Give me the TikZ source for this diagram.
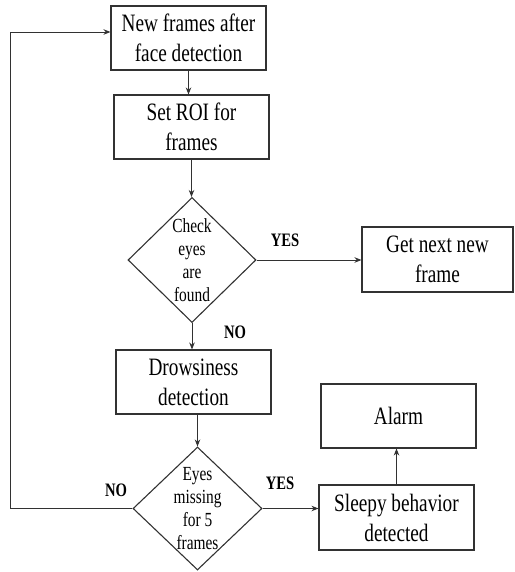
\documentclass[tikz,border=0pt]{standalone}
\usepackage{fontspec}
\setmainfont{Liberation Serif}[FakeStretch=0.77]
\usetikzlibrary{arrows.meta,positioning,shapes.geometric}
\definecolor{edgegray}{RGB}{50,50,50}

\begin{document}
\begin{tikzpicture}[
  x=1pt, y=-1pt,
  box/.style={draw=edgegray, line width=1.1pt, rectangle, align=center,
    minimum width=155pt, minimum height=64pt, inner sep=0pt,
    font=\fontsize{25}{30}\selectfont},
  decision/.style={draw=edgegray, line width=1.1pt, diamond, inner sep=0pt},
  dtext/.style={align=center, inner sep=0pt, font=\fontsize{20}{23}\selectfont},
  answer/.style={font=\bfseries\fontsize{19}{22}\selectfont, inner sep=0pt},
  flowarrow/.style={-{Stealth[length=7pt, width=5.5pt]}, line width=0.9pt, edgegray},
]
\useasboundingbox (0,0) rectangle (514,572);

% -------------------------------------------------------------------------
% Main column: frames, ROI, eye check, drowsiness test.
% -------------------------------------------------------------------------
\node[box] (newframes) at (188.5,38) {New frames after\\face detection};
\node[box] (setroi) at (191.5,127) {Set ROI for\\frames};

\node[decision, minimum width=128pt, minimum height=125pt] (checkeyes) at (192,260) {};
\node[dtext] (checktext) at (checkeyes.center) {Check\\eyes\\are\\found};

\node[box] (drowsy) at (193.5,382) {Drowsiness\\detection};

\node[decision, minimum width=129pt, minimum height=123pt] (missing) at (197.5,508.5) {};
\node[dtext] (missingtext) at (missing.center) {Eyes\\missing\\for 5\\frames};

% -------------------------------------------------------------------------
% Right column: outcomes.
% -------------------------------------------------------------------------
\node[box, minimum width=151pt, minimum height=65pt] (nextframe) at (437.5,259.5) {Get next new\\frame};
\node[box] (alarm) at (398.5,416) {Alarm};
\node[box, minimum height=65pt] (sleepy) at (396.5,517.5) {Sleepy behavior\\detected};

% Connectors
\draw[flowarrow] (newframes.south) -- (newframes.south |- setroi.north);
\draw[flowarrow] (setroi.south) -- (setroi.south |- checkeyes.north);
\draw[flowarrow] (checkeyes.east) -- (checkeyes.east -| nextframe.west);
\draw[flowarrow] (checkeyes.south) -- (checkeyes.south |- drowsy.north);
\draw[flowarrow] (missing.north |- drowsy.south) -- (missing.north);
\draw[flowarrow] (missing.east) -- (missing.east -| sleepy.west);
\draw[flowarrow] (sleepy.north) -- (sleepy.north |- alarm.south);

% loop back to the first box
\coordinate (backturn) at (10,32);
\draw[flowarrow] (missing.west) -| (backturn) -- (backturn -| newframes.west);

% Branch labels
\node[answer] (yes1) at (285,240) {YES};
\node[answer] (no1) at (235,332) {NO};
\node[answer] (no2) at (116,490) {NO};
\node[answer] (yes2) at (280,483) {YES};

\end{tikzpicture}
\end{document}
